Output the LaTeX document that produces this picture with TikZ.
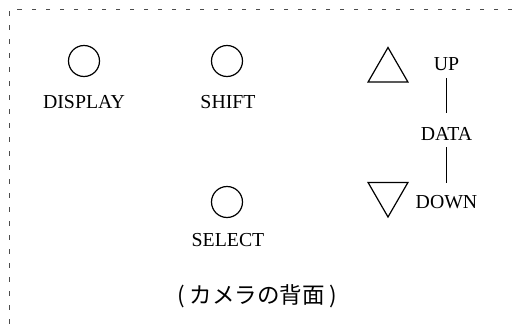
\documentclass[tikz,border=0pt]{standalone}
\usepackage{fontspec}
\setmainfont{Liberation Serif}
\newfontfamily\jpfont{Noto Sans CJK JP}
\usetikzlibrary{shapes.geometric}

\tikzset{
  button/.style={circle, draw, line width=1.2pt, minimum size=31pt, inner sep=0pt},
  arrowkey/.style={regular polygon, regular polygon sides=3, draw, line width=1.2pt,
    minimum size=46pt, inner sep=0pt},
  keylabel/.style={anchor=base, inner sep=0pt, font=\fontsize{19.8}{22}\selectfont},
}

\begin{document}
\begin{tikzpicture}[x=1pt, y=-1pt]
  \useasboundingbox (0,0) rectangle (512,327);
  \draw[dash pattern=on 4.5pt off 9.5pt, line width=0.8pt, black!70] (512,9.5) -- (9.5,9.5) -- (9.5,327);

  % buttons
  \node[button] (display) at (84,61) {};
  \node[button] (shift) at (227,61) {};
  \node[button] (select) at (227,202) {};
  \node[keylabel] (displaylbl) at (84,108) {DISPLAY};
  \node[keylabel] (shiftlbl) at (228,108) {SHIFT};
  \node[keylabel] (selectlbl) at (228,246) {SELECT};

  % up/down keys
  \node[arrowkey] (upkey) at (388,70.5) {};
  \node[arrowkey, shape border rotate=180] (downkey) at (388,194) {};
  \node[keylabel] (up) at (446.5,70) {UP};
  \node[keylabel] (data) at (446.5,140) {DATA};
  \node[keylabel] (down) at (446.5,208) {DOWN};
  \draw[line width=1.2pt, shorten <=8pt, shorten >=14pt] (up.south) -- (data.north);
  \draw[line width=1.2pt, shorten <=7pt, shorten >=12pt] (data.south) -- (down.north);

  \node[anchor=base, inner sep=0pt, font=\jpfont\fontsize{22.5}{26}\selectfont] (caption) at (257.5,303) {(\hspace{5pt}カメラの背面\hspace{5pt})};
\end{tikzpicture}
\end{document}
